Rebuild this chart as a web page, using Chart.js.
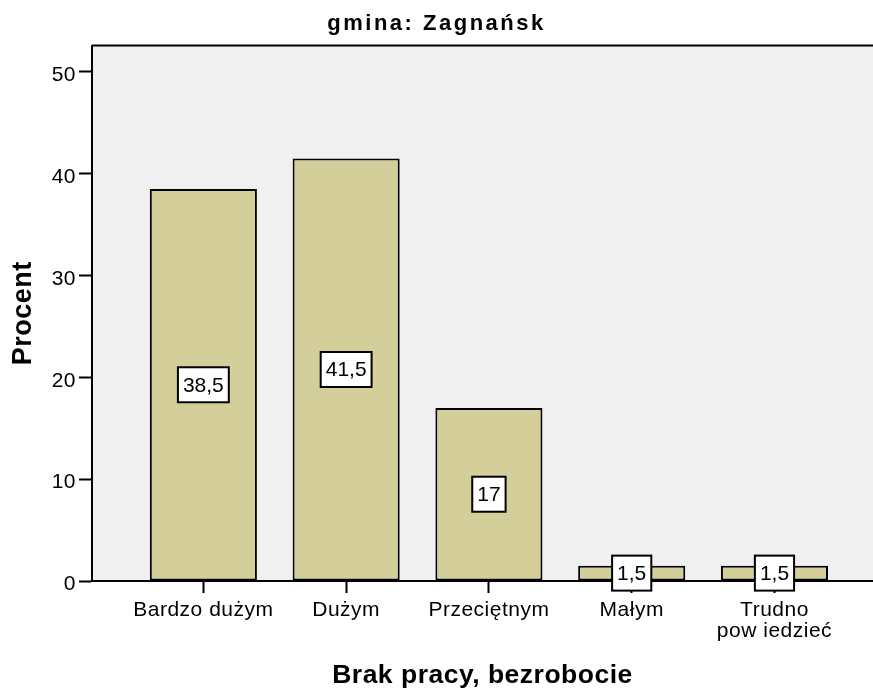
<!DOCTYPE html>
<html lang="pl">
<head>
  <meta charset="UTF-8">
  <title>gmina: Zagnańsk</title>
  <script src="https://cdn.jsdelivr.net/npm/chart.js"></script>
  <style>
    html, body { margin: 0; padding: 0; background: #fff; }
    .wrap { width: 873px; height: 692px; position: relative; }
  </style>
</head>
<body>
  <div class="wrap">
    <canvas id="chart"></canvas>
  </div>

  <script>
    // dane
    const categories = ['Bardzo dużym', 'Dużym', 'Przeciętnym', 'Małym', ['Trudno', 'pow iedzieć']];
    const percents = [38.5, 41.5, 17, 1.5, 1.5];
    const yTicks = [0, 10, 20, 30, 40, 50];

    const fontFamily = '"Liberation Sans", Arial, sans-serif';
    const barColor = '#D3CE9A';

    // tło wykresu + górna krawędź ramki (tytuł rysowany z większym odstępem liter)
    const plotFrame = {
      id: 'plotFrame',
      beforeDraw(chart) {
        const { ctx, chartArea: a } = chart;
        ctx.letterSpacing = '2.5px';
        ctx.save();
        ctx.fillStyle = '#F0F0F0';
        ctx.fillRect(a.left, a.top, a.right - a.left, a.bottom - a.top);
        ctx.strokeStyle = '#000';
        ctx.lineWidth = 2;
        ctx.beginPath();
        ctx.moveTo(a.left, a.top);
        ctx.lineTo(a.right, a.top);
        ctx.stroke();
        ctx.restore();
      },
      beforeDatasetsDraw(chart) {
        // osie są rysowane po słupkach (z: 1)
        chart.ctx.letterSpacing = '0.5px';
      }
    };

    // etykiety wartości w ramkach na środku słupków
    const valueBoxes = {
      id: 'valueBoxes',
      afterDraw(chart) {
        const { ctx } = chart;
        const meta = chart.getDatasetMeta(0);
        ctx.save();
        ctx.letterSpacing = '0px';
        ctx.font = '21px ' + fontFamily;
        ctx.textAlign = 'center';
        ctx.textBaseline = 'middle';
        meta.data.forEach((bar, i) => {
          const txt = String(percents[i]).replace('.', ',');
          const w = ctx.measureText(txt).width + 10;
          const h = 35;
          const cx = bar.x;
          const cy = (bar.y + bar.base) / 2;
          ctx.fillStyle = '#fff';
          ctx.fillRect(cx - w / 2, cy - h / 2, w, h);
          ctx.strokeStyle = '#000';
          ctx.lineWidth = 2;
          ctx.strokeRect(cx - w / 2, cy - h / 2, w, h);
          ctx.fillStyle = '#000';
          ctx.fillText(txt, cx, cy + 1);
        });
        ctx.restore();
      }
    };

    const ctx = document.getElementById('chart').getContext('2d');
    new Chart(ctx, {
      type: 'bar',
      data: {
        datasets: [{
          label: 'Procent',
          data: percents.map((v, i) => ({ x: i, y: v })),
          backgroundColor: barColor,
          borderColor: '#000',
          borderWidth: 2,
          borderSkipped: false,
          barPercentage: 0.75,
          categoryPercentage: 1
        }]
      },
      options: {
        responsive: true,
        maintainAspectRatio: false,
        animation: false,
        layout: { padding: 0 },
        plugins: {
          legend: { display: false },
          tooltip: { enabled: false },
          title: {
            display: true,
            text: 'gmina: Zagnańsk',
            color: '#000',
            font: { family: fontFamily, size: 22, weight: 'bold', lineHeight: 1.2 },
            padding: { top: 10.9, bottom: 8.2 }
          }
        },
        scales: {
          x: {
            type: 'linear',
            offset: false,
            min: -0.78,
            max: 4.69,
            afterBuildTicks: s => { s.ticks = categories.map((c, i) => ({ value: i })); },
            afterFit: s => { s.height = 111; },
            ticks: {
              z: 1,
              autoSkip: false,
              maxRotation: 0,
              padding: 7,
              color: '#000',
              font: { family: fontFamily, size: 21, lineHeight: 0.98 },
              callback: (v, i) => categories[i]
            },
            grid: {
              z: 1,
              offset: false,
              drawOnChartArea: false,
              drawTicks: true,
              tickLength: 12,
              tickWidth: 2,
              tickColor: '#000'
            },
            border: { z: 1, display: true, color: '#000', width: 2 },
            title: {
              display: true,
              text: 'Brak pracy, bezrobocie',
              color: '#000',
              font: { family: fontFamily, size: 26.5, weight: 'bold', lineHeight: 1.2 },
              padding: { top: 0, bottom: 0 }
            }
          },
          y: {
            min: 0,
            max: 52.6,
            afterBuildTicks: s => { s.ticks = yTicks.map(v => ({ value: v })); },
            afterFit: s => { s.width = 92; },
            ticks: {
              z: 1,
              padding: 3,
              labelOffset: 3.5,
              color: '#000',
              font: { family: fontFamily, size: 21 }
            },
            grid: {
              z: 1,
              drawOnChartArea: false,
              drawTicks: true,
              tickLength: 13,
              tickWidth: 2,
              tickColor: '#000'
            },
            border: { z: 1, display: true, color: '#000', width: 2 },
            title: {
              display: true,
              text: 'Procent',
              color: '#000',
              font: { family: fontFamily, size: 27, weight: 'bold', lineHeight: 1.2 },
              padding: { top: 7.5, bottom: 0 }
            }
          }
        }
      },
      plugins: [plotFrame, valueBoxes]
    });
  </script>
</body>
</html>
